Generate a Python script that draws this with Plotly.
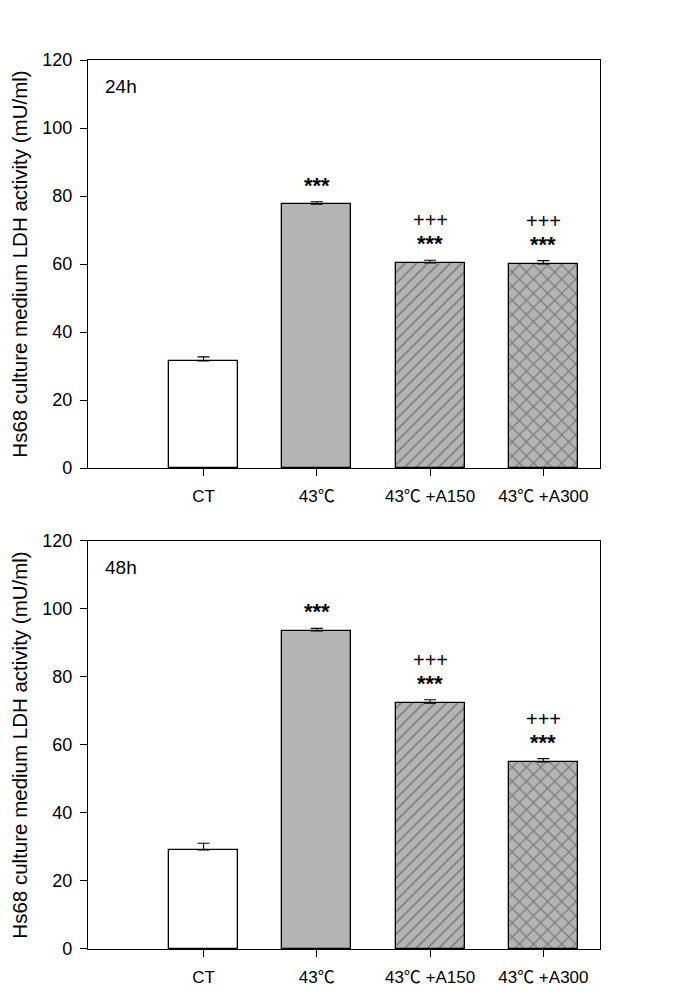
import plotly.graph_objects as go
from plotly.subplots import make_subplots

categories = ["CT", "43℃", "43℃ +A150", "43℃ +A300"]
values_24h = [31.5, 77.6, 60.3, 60.0]
errors_24h = [1.2, 0.7, 0.8, 1.0]
values_48h = [29.1, 93.5, 72.3, 55.0]
errors_48h = [2.0, 0.8, 1.0, 1.0]
stars_24h = ["", "***", "***", "***"]
plus_24h = ["", "", "+++", "+++"]
stars_48h = ["", "***", "***", "***"]
plus_48h = ["", "", "+++", "+++"]
panel_labels = ["24h", "48h"]
y_ticks = [0, 20, 40, 60, 80, 100, 120]
y_title = "Hs68 culture medium LDH activity (mU/ml)"

FONT = "Liberation Sans, Arial, sans-serif"
XFONT = "Liberation Sans, Noto Sans CJK SC, sans-serif"
GRAY = "#b4b4b4"
fills = ["white", GRAY, GRAY, GRAY]
patterns = ["", "", "/", "x"]
pat_sizes = [8, 8, 8, 10]
pat_solid = [0.2, 0.2, 0.2, 0.24]

fig = make_subplots(rows=2, cols=1, vertical_spacing=0.082)

xs = list(range(len(categories)))

for row, (vals, errs, stars, pluses, lab) in enumerate(
    [(values_24h, errors_24h, stars_24h, plus_24h, panel_labels[0]),
     (values_48h, errors_48h, stars_48h, plus_48h, panel_labels[1])], start=1):
    fig.add_trace(go.Bar(
        x=xs, y=vals, width=0.61,
        marker=dict(color=fills, line=dict(color="black", width=1.3),
                    pattern=dict(shape=patterns, fgcolor="#1a1a1a", bgcolor=fills,
                                 size=pat_sizes, solidity=pat_solid)),
        error_y=dict(type="data", symmetric=False, array=errs,
                     arrayminus=[0] * len(errs), color="black", thickness=1.1, width=6),
        showlegend=False,
    ), row=row, col=1)
    for i, (v, e, s, p) in enumerate(zip(vals, errs, stars, pluses)):
        if s:
            fig.add_annotation(x=i, y=v + e, text="<b>" + s + "</b>", showarrow=False,
                               yanchor="bottom", yshift=2,
                               font=dict(family=FONT, size=22, color="black"),
                               row=row, col=1)
        if p:
            fig.add_annotation(x=i, y=v + e, text=p, showarrow=False, yanchor="bottom",
                               yshift=27, font=dict(family=FONT, size=20, color="black"),
                               row=row, col=1)
    fig.add_annotation(x=0.03, y=0.965, xref="x domain" if row == 1 else "x2 domain",
                       yref="y domain" if row == 1 else "y2 domain",
                       text=lab, showarrow=False, xanchor="left", yanchor="top",
                       font=dict(family=FONT, size=19, color="black"))
    fig.update_xaxes(range=[-1.02, 3.5], tickvals=xs, ticktext=categories,
                     ticks="outside", ticklen=7, tickwidth=1, tickcolor="black",
                     ticklabelstandoff=5,
                     showline=True, linecolor="black", linewidth=1.3, mirror=True,
                     showgrid=False, zeroline=False,
                     tickfont=dict(family=XFONT, size=17, color="black"), row=row, col=1)
    fig.update_yaxes(range=[0, 120], tickvals=y_ticks,
                     ticks="outside", ticklen=7, tickwidth=1, tickcolor="black",
                     ticklabelstandoff=4, automargin=False,
                     showline=True, linecolor="black", linewidth=1.3, mirror=True,
                     showgrid=False, zeroline=False,
                     title=dict(text=y_title, font=dict(family=FONT, size=20.5, color="black"),
                                standoff=14),
                     tickfont=dict(family=FONT, size=18, color="black"), row=row, col=1)

fig.update_layout(
    width=680, height=995,
    margin=dict(l=80, r=88, t=52, b=54),
    plot_bgcolor="white", paper_bgcolor="white",
    bargap=0,
)

fig.write_html("out.html")
